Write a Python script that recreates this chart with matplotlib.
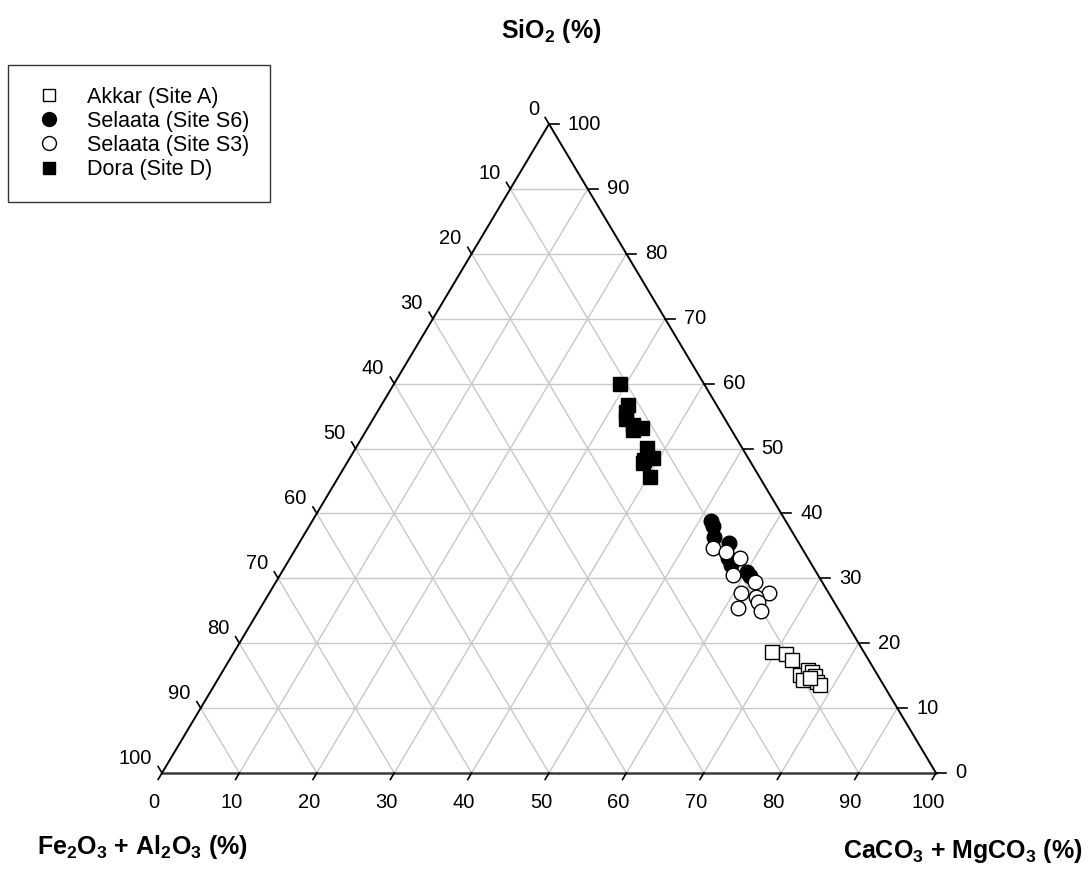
import matplotlib
matplotlib.use("Agg")
import matplotlib.pyplot as plt
from matplotlib.lines import Line2D

plt.rcParams['font.family'] = ['Liberation Sans', 'DejaVu Sans']
plt.rcParams['mathtext.fontset'] = 'custom'
plt.rcParams['mathtext.rm'] = 'Liberation Sans:bold'
plt.rcParams['mathtext.bf'] = 'Liberation Sans:bold'
plt.rcParams['mathtext.default'] = 'bf'

# values in % : SiO2 and CaCO3+MgCO3 (Fe2O3+Al2O3 is the rest)
akkar_sio2 = [18.7, 18.3, 17.4, 15.1, 15.9, 15.6, 15.0, 14.0, 14.3, 13.6, 14.6]
akkar_carb = [69.4, 71.5, 72.7, 74.9, 75.5, 76.2, 76.9, 77.6, 75.7, 78.2, 76.4]

s6_sio2 = [38.8, 38.1, 36.4, 35.4, 33.1, 32.1, 31.0, 30.4]
s6_carb = [51.5, 52.2, 53.1, 55.5, 56.6, 57.4, 60.1, 60.8]

s3_sio2 = [34.7, 34.1, 33.1, 30.5, 29.4, 27.7, 27.7, 27.1, 26.4, 25.4, 25.0]
s3_carb = [53.9, 55.8, 58.1, 58.5, 61.9, 60.9, 64.6, 63.2, 63.8, 61.7, 64.9]

dora_sio2 = [59.9, 56.7, 55.6, 54.6, 53.6, 52.9, 53.2, 50.1, 48.2, 48.5, 45.6, 47.8]
dora_carb = [29.2, 31.9, 32.1, 32.7, 34.0, 34.4, 35.4, 37.6, 38.2, 39.2, 40.3, 38.3]

ticks = [0, 10, 20, 30, 40, 50, 60, 70, 80, 90, 100]


def tern(sio2, carb):
    x = [c + s / 2 for s, c in zip(sio2, carb)]
    return x, list(sio2)


fig = plt.figure(figsize=(10.91, 8.73), dpi=100)
ax = fig.add_axes([162 / 1091, 100 / 873, 774 / 1091, 649 / 873])
ax.set_xlim(0, 100)
ax.set_ylim(0, 100)
ax.axis('off')

# grid
for v in ticks[1:-1]:
    ax.plot([v / 2, 100 - v / 2], [v, v], color='#c8c8c8', lw=1, zorder=1)
    ax.plot([v, 50 + v / 2], [0, 100 - v], color='#c8c8c8', lw=1, zorder=1)
    ax.plot([v, v / 2], [0, v], color='#c8c8c8', lw=1, zorder=1)

# sides
ax.plot([0, 50], [0, 100], color='black', lw=1.4, zorder=2, clip_on=False)
ax.plot([50, 100], [100, 0], color='black', lw=1.4, zorder=2, clip_on=False)
ax.plot([0, 100], [0, 0], color='#3a3a3a', lw=1.8, zorder=2, clip_on=False)

# ticks and labels
for v in ticks:
    # bottom: CaCO3 + MgCO3
    ax.plot([v, v - 0.5], [0, -1.0], color='black', lw=1.2, clip_on=False)
    ax.text(v - 1.03, -4.62, str(v), fontsize=14.5, ha='center', va='center')
    # right: SiO2
    xr = 100 - v / 2
    ax.plot([xr, xr + 1.3], [v, v], color='black', lw=1.2, clip_on=False)
    ax.text(xr + 2.45, v, str(v), fontsize=14.5, ha='left', va='center')
    # left: Fe2O3 + Al2O3
    s = 100 - v
    ax.plot([s / 2, s / 2 - 0.5], [s, s + 1.0], color='black', lw=1.2, clip_on=False)
    ax.text(s / 2 - 1.29, s + 2.31, str(v), fontsize=14.5, ha='right', va='center')

ms = 10.5
x, y = tern(akkar_sio2, akkar_carb)
ax.plot(x, y, 's', ms=ms, mfc='white', mec='black', mew=1, ls='none', zorder=3, clip_on=False)
x, y = tern(s6_sio2, s6_carb)
ax.plot(x, y, 'o', ms=ms, mfc='black', mec='black', mew=1, ls='none', zorder=3, clip_on=False)
x, y = tern(s3_sio2, s3_carb)
ax.plot(x, y, 'o', ms=ms, mfc='white', mec='black', mew=1, ls='none', zorder=4, clip_on=False)
x, y = tern(dora_sio2, dora_carb)
ax.plot(x, y, 's', ms=ms, mfc='black', mec='black', mew=1, ls='none', zorder=3, clip_on=False)

# axis titles
ax.text(50.3, 113.2, r'SiO$_2$ (%)', fontsize=18, fontweight='bold', ha='center', va='baseline')
ax.text(-2.5, -12.5, r'Fe$_2$O$_3$ + Al$_2$O$_3$ (%)', fontsize=18, fontweight='bold',
        ha='center', va='baseline', clip_on=False)
ax.text(103.5, -13.1, r'CaCO$_3$ + MgCO$_3$ (%)', fontsize=18, fontweight='bold',
        ha='center', va='baseline', clip_on=False)

handles = [
    Line2D([], [], marker='s', ms=9, mfc='white', mec='black', mew=1, ls='none', label='Akkar (Site A)'),
    Line2D([], [], marker='o', ms=10, mfc='black', mec='black', mew=1, ls='none', label='Selaata (Site S6)'),
    Line2D([], [], marker='o', ms=10, mfc='white', mec='black', mew=1, ls='none', label='Selaata (Site S3)'),
    Line2D([], [], marker='s', ms=9, mfc='black', mec='black', mew=1, ls='none', label='Dora (Site D)'),
]
leg = fig.legend(handles=handles, loc='upper left', bbox_to_anchor=(8 / 1091, 1 - 65 / 873),
                 borderaxespad=0, borderpad=1.0, handlelength=1.8, handletextpad=0.85,
                 labelspacing=0.15, fontsize=15.5, fancybox=False, framealpha=1)
leg.get_frame().set_edgecolor('#333333')
leg.get_frame().set_linewidth(1.0)

fig.savefig('out.png', dpi=100)
